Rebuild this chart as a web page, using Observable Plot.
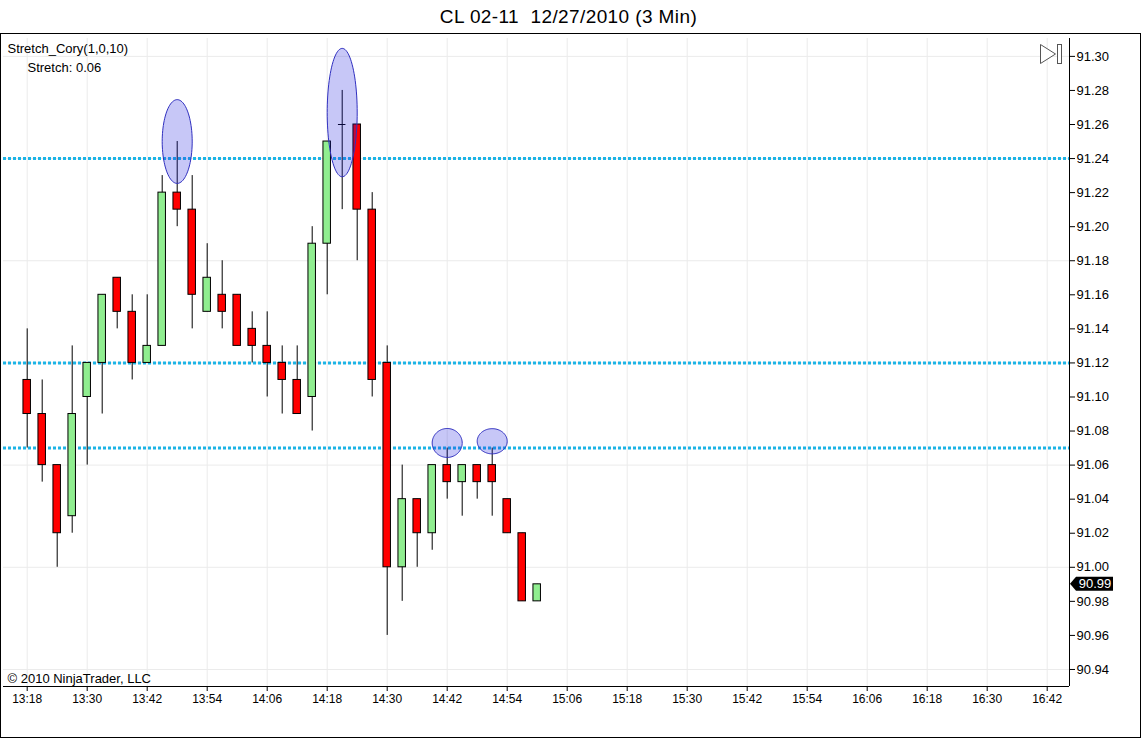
<!DOCTYPE html>
<html><head><meta charset="utf-8">
<script src="https://cdn.jsdelivr.net/npm/d3@7"></script>
<script src="https://cdn.jsdelivr.net/npm/@observablehq/plot@0.6"></script>
<style>
body{margin:0;background:#fff;font-family:"Liberation Sans",Arial,sans-serif;}
#title{position:absolute;left:0;top:0;width:1137px;height:34px;text-align:center;font-size:19px;line-height:34px;letter-spacing:0.4px;color:#000;}
#chart{position:absolute;left:0;top:34px;}
#border{position:absolute;left:0;top:33px;width:1141px;height:705px;border:1px solid #000;box-sizing:border-box;pointer-events:none;}
</style></head><body>
<div id="title">CL 02-11&nbsp; 12/27/2010 (3 Min)</div>
<div id="chart"></div>
<div id="border"></div>
<script>
// ---- data ----
const times = ["13:18","13:21","13:24","13:27","13:30","13:33","13:36","13:39","13:42","13:45",
  "13:48","13:51","13:54","13:57","14:00","14:03","14:06","14:09","14:12","14:15",
  "14:18","14:21","14:24","14:27","14:30","14:33","14:36","14:39","14:42","14:45",
  "14:48","14:51","14:54","14:57","15:00"];
const open  = [91.11,91.09,91.06,91.03,91.10,91.12,91.17,91.15,91.12,91.13,
  91.22,91.21,91.15,91.16,91.16,91.14,91.13,91.12,91.11,91.10,
  91.19,91.26,91.26,91.21,91.12,91.00,91.04,91.02,91.06,91.05,
  91.06,91.06,91.04,91.02,90.98];
const high  = [91.14,91.11,91.06,91.13,91.12,91.16,91.17,91.16,91.16,91.23,
  91.25,91.23,91.19,91.18,91.16,91.15,91.15,91.13,91.13,91.20,
  91.25,91.28,91.26,91.22,91.13,91.06,91.04,91.06,91.07,91.06,
  91.06,91.07,91.04,91.02,90.99];
const low   = [91.07,91.05,91.00,91.02,91.06,91.09,91.14,91.11,91.12,91.13,
  91.20,91.14,91.15,91.14,91.13,91.12,91.10,91.09,91.09,91.08,
  91.16,91.21,91.18,91.10,90.96,90.98,91.00,91.01,91.04,91.03,
  91.04,91.03,91.02,90.98,90.98];
const close = [91.09,91.06,91.02,91.09,91.12,91.16,91.15,91.12,91.13,91.22,
  91.21,91.16,91.17,91.15,91.13,91.13,91.12,91.11,91.09,91.19,
  91.25,91.26,91.21,91.11,91.00,91.04,91.02,91.06,91.05,91.06,
  91.05,91.05,91.02,90.98,90.99];
const stretchLevels = [91.24, 91.12, 91.07];
const markTimes  = ["13:48","14:21","14:42","14:51"];
const markPrice  = [91.250, 91.267, 91.073, 91.074];
const markHalfPrice = [0.0246, 0.0377, 0.0085, 0.0074];
const markHalfMinutes = [3, 3, 3, 3];
const xTickLabels = ["13:18","13:30","13:42","13:54","14:06","14:18","14:30","14:42","14:54","15:06",
  "15:18","15:30","15:42","15:54","16:06","16:18","16:30","16:42"];
const yTickValues = [90.94,90.96,90.98,91.00,91.02,91.04,91.06,91.08,91.10,91.12,
  91.14,91.16,91.18,91.20,91.22,91.24,91.26,91.28,91.30];
const yGridValues = [90.94,91.00,91.06,91.12,91.18,91.24,91.30];
const lastPrice = 90.99;

// ---- build ----
const toDate = s => { const [h, m] = s.split(":").map(Number); return new Date(Date.UTC(2010, 11, 27, h, m)); };
const MIN = 60000;
const candles = times.map((t, i) => ({date: toDate(t), open: open[i], high: high[i], low: low[i], close: close[i]}));
const up = candles.filter(d => d.close > d.open);
const down = candles.filter(d => d.close < d.open);
const doji = candles.filter(d => d.close === d.open);
const xTicks = xTickLabels.map(toDate);

const ellPts = [];
markTimes.forEach((t, k) => {
  const c = +toDate(t);
  for (let a = 0; a < 96; a++) {
    const th = a / 96 * 2 * Math.PI;
    ellPts.push({id: k, date: new Date(c + markHalfMinutes[k] * MIN * Math.cos(th)), price: markPrice[k] + markHalfPrice[k] * Math.sin(th)});
  }
});

const xDomain = [new Date(+toDate(xTickLabels[0]) - 4.74 * MIN), new Date(+toDate(xTickLabels[xTickLabels.length - 1]) + 4.46 * MIN)];
const yDomain = [90.93, 91.3105];
const halfBody = 0.75 * MIN;

const chart = Plot.plot({
  width: 1144, height: 704,
  marginLeft: 3, marginRight: 75, marginTop: 4, marginBottom: 52,
  style: {fontFamily: "'Liberation Sans', Arial, sans-serif", fontSize: "12px", color: "#000", background: "transparent", overflow: "visible"},
  x: {type: "utc", domain: xDomain, axis: null},
  y: {domain: yDomain, axis: null},
  marks: [
    Plot.gridX(xTicks, {stroke: "#ebebeb", strokeOpacity: 1}),
    Plot.gridY(yGridValues, {stroke: "#ebebeb", strokeOpacity: 1}),
    Plot.ruleY(stretchLevels, {stroke: "#1cb4e6", strokeWidth: 3, strokeDasharray: "3,2"}),
    Plot.ruleX(candles, {x: "date", y1: "low", y2: "high", stroke: "#000"}),
    Plot.rect(up, {x1: d => new Date(+d.date - halfBody), x2: d => new Date(+d.date + halfBody), y1: "open", y2: "close", fill: "#90ee90", stroke: "#000"}),
    Plot.rect(down, {x1: d => new Date(+d.date - halfBody), x2: d => new Date(+d.date + halfBody), y1: "open", y2: "close", fill: "#ff0000", stroke: "#000"}),
    Plot.ruleY(doji, {y: "close", x1: d => new Date(+d.date - halfBody), x2: d => new Date(+d.date + halfBody), stroke: "#000"}),
    Plot.line(ellPts, {x: "date", y: "price", z: "id", curve: "linear-closed", fill: "#2020e0", fillOpacity: 0.25, stroke: "#3030c0", strokeWidth: 1}),
    Plot.ruleX([xDomain[1]], {stroke: "#000"}),
    Plot.ruleY([yDomain[0]], {stroke: "#000"}),
    Plot.axisY(yTickValues, {anchor: "right", tickSize: 5, tickPadding: 2, tickFormat: d => d.toFixed(2), fontSize: 13}),
    Plot.axisX(xTicks, {anchor: "bottom", tickSize: 5, tickPadding: 3, tickFormat: d3.utcFormat("%H:%M"), fontSize: 12}),
    Plot.text(["Stretch_Cory(1,0,10)"], {frameAnchor: "top-left", textAnchor: "start", lineAnchor: "top", dx: 4, dy: 5, fontSize: 13, fill: "#000"}),
    Plot.text(["Stretch: 0.06"], {frameAnchor: "top-left", textAnchor: "start", lineAnchor: "top", dx: 24, dy: 24, fontSize: 13, fill: "#000"}),
    Plot.text(["© 2010 NinjaTrader, LLC"], {frameAnchor: "bottom-left", textAnchor: "start", lineAnchor: "top", dx: 4, dy: -13, fontSize: 13, fill: "#000"})
  ]
});
document.getElementById("chart").appendChild(chart);

// decorations: last price tag and panel icon
const svg = d3.select(chart);
const py = chart.scale("y").apply(lastPrice);
const px = chart.scale("x").apply(xDomain[1]);
const g = svg.append("g");
g.append("path")
  .attr("d", `M${px + 1},${py} L${px + 7},${py - 7} L${px + 44},${py - 7} L${px + 44},${py + 7} L${px + 7},${py + 7} Z`)
  .attr("fill", "#000");
g.append("text").attr("x", px + 26).attr("y", py).attr("dy", "0.35em")
  .attr("text-anchor", "middle").attr("fill", "#fff").attr("font-size", 13).text(lastPrice.toFixed(2));
const ic = svg.append("g").attr("fill", "#fff").attr("stroke", "#555").attr("stroke-width", 1);
ic.append("path").attr("d", "M1040.5,10.5 L1055.5,20 L1040.5,29.5 Z");
ic.append("rect").attr("x", 1057.5).attr("y", 10.5).attr("width", 4).attr("height", 19);
</script>
</body></html>
